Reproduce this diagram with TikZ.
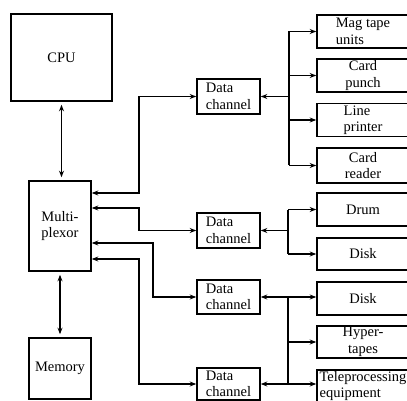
\documentclass[tikz,border=0pt]{standalone}
\usepackage{fontspec}
\setmainfont{Liberation Serif}
\usetikzlibrary{arrows.meta,calc}
\begin{document}
\begin{tikzpicture}[x=1pt,y=-1pt,line width=1.8pt,
  >={Stealth[length=6.5pt,width=5pt]},
  box/.style={draw,line width=1.6pt,inner sep=0pt,align=center,
    font=\fontsize{14.5}{16.5}\selectfont},
  dev/.style={box,minimum width=92pt,minimum height=33pt},
  dch/.style={box,align=left,minimum width=63pt}]
\useasboundingbox (0,0) rectangle (407,401);
\clip (0,0) rectangle (407,401);
% left column
\node[box,minimum width=101pt,minimum height=87pt] (cpu) at (61.5,57.5) {CPU};
\node[box,minimum width=62pt,minimum height=90pt] (mux) at (60,226) {Multi-\\plexor};
\node[box,minimum width=62pt,minimum height=61pt] (mem) at (60,368.5) {Memory};
% data channels
\node[dch,minimum height=35pt] (dc1) at (228.5,96.5) {Data\\channel};
\node[dch,minimum height=35pt] (dc2) at (228.5,230.5) {Data\\channel};
\node[dch,minimum height=34pt] (dc3) at (228.5,297) {Data\\channel};
\node[dch,minimum height=32pt] (dc4) at (228.5,384) {Data\\channel};
% devices
\node[dev,align=left] (mag) at (363,31.5) {Mag tape\\units};
\node[dev] (punch) at (363,75.5) {Card\\punch};
\node[dev,align=left] (printer) at (363,120) {Line\\printer};
\node[dev,minimum height=35pt] (reader) at (363,165.5) {Card\\reader};
\node[dev] (drum) at (363,209.5) {Drum};
\node[dev,minimum height=32pt] (disk) at (363,254) {Disk};
\node[dev] (disk2) at (363,298.5) {Disk};
\node[dev,minimum height=32pt] (hyper) at (363,342) {Hyper-\\tapes};
\node[dev,align=left,minimum height=32pt] (tele) at (363,386) {Teleprocessing\\equipment};
% CPU / memory links
\draw[<->,shorten <=3pt,shorten >=3pt] (cpu.south) -- (cpu.south |- mux.north);
\draw[<->,shorten <=3pt,shorten >=3pt] (mux.south) -- (mem.north);
% multiplexor to data channels
\draw[<->] (dc1.west) -- ++(-57,0) |- ([yshift=33pt]mux.east);
\draw[<->] (dc2.west) -- ++(-57,0) |- ([yshift=18pt]mux.east);
\draw[<->] (dc3.west) -- ++(-43,0) |- ([yshift=-17pt]mux.east);
\draw[<->] (dc4.west) -- ++(-57,0) |- ([yshift=-33pt]mux.east);
% buses
\coordinate (b1) at (289,0);
\coordinate (b2) at (288,0);
\draw (mag.west -| b1) -- (reader.west -| b1);
\foreach \n in {mag,punch,printer,reader} \draw[->] (\n.west -| b1) -- (\n.west);
\draw[->] (dc1.east -| b1) -- (dc1.east);
\draw (drum.west -| b2) -- (disk.west -| b2);
\foreach \n in {drum,disk} \draw[->] (\n.west -| b2) -- (\n.west);
\draw[->] (dc2.east -| b2) -- (dc2.east);
\draw (dc3.east -| b2) -- (dc4.east -| b2);
\draw[<->] (dc3.east) -- (dc3.east -| disk2.west);
\draw[->] (hyper.west -| b2) -- (hyper.west);
\draw[<->] (dc4.east) -- (dc4.east -| tele.west);
\end{tikzpicture}
\end{document}
